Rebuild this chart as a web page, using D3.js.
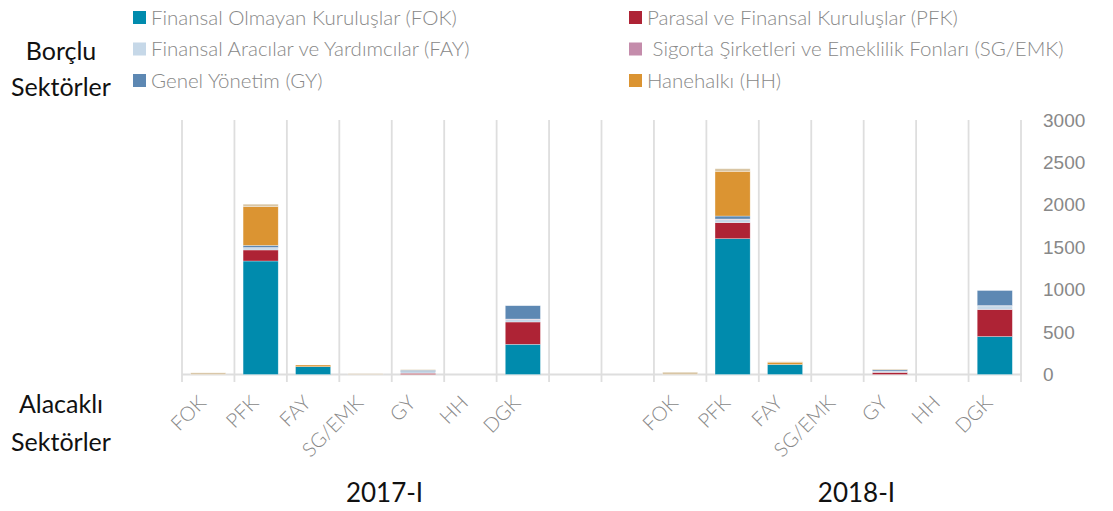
<!DOCTYPE html>
<html>
<head>
<meta charset="utf-8">
<script src="https://cdn.jsdelivr.net/npm/d3@7"></script>
<style>
  body { margin: 0; background: #fff; }
  svg { font-family: Lato, "Open Sans", sans-serif; }
</style>
</head>
<body>
<script>
// periods and creditor (alacaklı) categories on the x axis
const periods = ['2017-I', '2018-I'];
const categories = ['FOK', 'PFK', 'FAY', 'SG/EMK', 'GY', 'HH', 'DGK'];

// debtor (borçlu) sectors, stacked bottom to top
const seriesKeys = ['FOK', 'PFK', 'FAY', 'SGEMK', 'GY', 'HH', 'DGK'];
const seriesNames = [
  'Finansal Olmayan Kuruluşlar (FOK)',
  'Parasal ve Finansal Kuruluşlar (PFK)',
  'Finansal Aracılar ve Yardımcılar (FAY)',
  ' Sigorta Şirketleri ve Emeklilik Fonları (SG/EMK)',
  'Genel Yönetim (GY)',
  'Hanehalkı (HH)',
  'DGK'
];
const colors = ['#008bad', '#ae2335', '#c6d8e8', '#c48cab', '#5d88b3', '#db9432', '#d9c6a5'];

// values per creditor category, 2017-I then 2018-I
const fokValues   = [0, 1338, 92, 0, 0, 0, 356,   0, 1601, 118, 0, 0, 0, 448];
const pfkValues   = [0, 130, 0, 0, 15, 0, 263,    0, 189, 0, 0, 25, 0, 318];
const fayValues   = [0, 25, 0, 0, 20, 0, 31,      0, 39, 0, 0, 15, 0, 43];
const sgemkValues = [0, 4, 0, 0, 0, 0, 4,         0, 4, 0, 0, 0, 0, 4];
const gyValues    = [0, 25, 0, 0, 15, 0, 157,     0, 35, 0, 0, 15, 0, 177];
const hhValues    = [0, 456, 20, 0, 0, 0, 0,      0, 527, 27, 0, 0, 0, 0];
const dgkValues   = [20, 30, 0, 10, 8, 0, 0,      27, 31, 5, 0, 10, 0, 0];

const yTicks = [0, 500, 1000, 1500, 2000, 2500, 3000];

const allValues = [fokValues, pfkValues, fayValues, sgemkValues, gyValues, hhValues, dgkValues];

// build rows: one per period/category
const rows = [];
periods.forEach((p, pi) => {
  categories.forEach((c, ci) => {
    const row = { slot: p + '|' + c, period: p, cat: c };
    seriesKeys.forEach((k, si) => { row[k] = allValues[si][pi * categories.length + ci]; });
    rows.push(row);
  });
});

// slot list: 7 categories, two empty slots, 7 categories
const slots = [];
categories.forEach(c => slots.push('2017-I|' + c));
slots.push('gap1', 'gap2');
categories.forEach(c => slots.push('2018-I|' + c));

const width = 1113, height = 511;
const svg = d3.select('body').append('svg')
  .attr('width', width)
  .attr('height', height);

const x = d3.scaleBand()
  .domain(slots)
  .range([182, 1021])
  .paddingInner(0.33)
  .paddingOuter(0.165);

const y = d3.scaleLinear()
  .domain([0, 3000])
  .range([374.5, 120]);

// vertical separators between categories
const step = x.step();
const bounds = d3.range(slots.length + 1).map(i => 182 + i * step);
svg.append('g')
  .selectAll('line')
  .data(bounds)
  .enter().append('line')
  .attr('x1', d => d).attr('x2', d => d)
  .attr('y1', y(3000)).attr('y2', 382)
  .style('stroke', '#dedede')
  .style('stroke-width', 1.8);

// baseline
svg.append('line')
  .attr('x1', 182).attr('x2', 1022)
  .attr('y1', y(0)).attr('y2', y(0))
  .style('stroke', '#dedede')
  .style('stroke-width', 1.8);

// stacked bars
const stack = d3.stack().keys(seriesKeys);
const stacked = stack(rows);

svg.append('g')
  .selectAll('g')
  .data(stacked)
  .enter().append('g')
  .style('fill', (d, i) => colors[i])
  .selectAll('rect')
  .data(d => d.filter(s => s[1] - s[0] > 0))
  .enter().append('rect')
  .attr('x', d => x(d.data.slot))
  .attr('width', x.bandwidth())
  .attr('y', d => y(d[1]))
  .attr('height', d => y(d[0]) - y(d[1]))
  .style('stroke', '#ffffff')
  .style('stroke-width', 0.6)
  .style('stroke-opacity', 0.5);

// right y axis
const yAxis = d3.axisRight(y).tickValues(yTicks).tickFormat(d3.format('d')).tickSize(0).tickPadding(21);
const yg = svg.append('g')
  .attr('transform', 'translate(1022,0)')
  .call(yAxis);
yg.select('.domain').remove();
yg.selectAll('text')
  .style('font-size', '19px')
  .style('font-weight', 300)
  .style('fill', '#888');

// category tick labels, rotated
svg.append('g')
  .selectAll('text')
  .data(rows)
  .enter().append('text')
  .attr('transform', d => `translate(${x(d.slot) + x.bandwidth() / 2 - 1},404)rotate(-45)`)
  .style('text-anchor', 'end')
  .style('font-size', '20px')
  .style('font-weight', 300)
  .style('fill', '#888')
  .text(d => d.cat);

// period labels
svg.append('g')
  .selectAll('text')
  .data(periods)
  .enter().append('text')
  .attr('x', p => {
    const first = x(p + '|' + categories[0]);
    const last = x(p + '|' + categories[categories.length - 1]) + x.bandwidth();
    return (first + last) / 2 + 19;
  })
  .attr('y', 502)
  .style('text-anchor', 'middle')
  .style('font-size', '26px')
  .style('fill', '#111')
  .text(p => p);

// side titles
const sideTitles = [
  { text: 'Borçlu', y: 60 },
  { text: 'Sektörler', y: 96 },
  { text: 'Alacaklı', y: 413 },
  { text: 'Sektörler', y: 451 }
];
svg.append('g')
  .selectAll('text')
  .data(sideTitles)
  .enter().append('text')
  .attr('x', 61)
  .attr('y', d => d.y)
  .style('text-anchor', 'middle')
  .style('font-size', '25px')
  .style('fill', '#111')
  .text(d => d.text);

// legend (first six series, two columns)
const legendItems = seriesNames.slice(0, 6).map((name, i) => ({
  name: name,
  color: colors[i],
  col: i % 2,
  row: Math.floor(i / 2)
}));
const legend = svg.append('g')
  .selectAll('g')
  .data(legendItems)
  .enter().append('g')
  .attr('transform', d => `translate(${d.col === 0 ? 133 : 629},${17.5 + d.row * 31.5})`);
legend.append('rect')
  .attr('x', 0).attr('y', -6.5)
  .attr('width', 13).attr('height', 13)
  .style('fill', d => d.color);
legend.append('text')
  .attr('x', 18)
  .attr('y', 7)
  .style('font-size', '20.5px')
  .style('font-weight', 300)
  .style('fill', '#888')
  .style('white-space', 'pre')
  .text(d => d.name);
</script>
</body>
</html>
